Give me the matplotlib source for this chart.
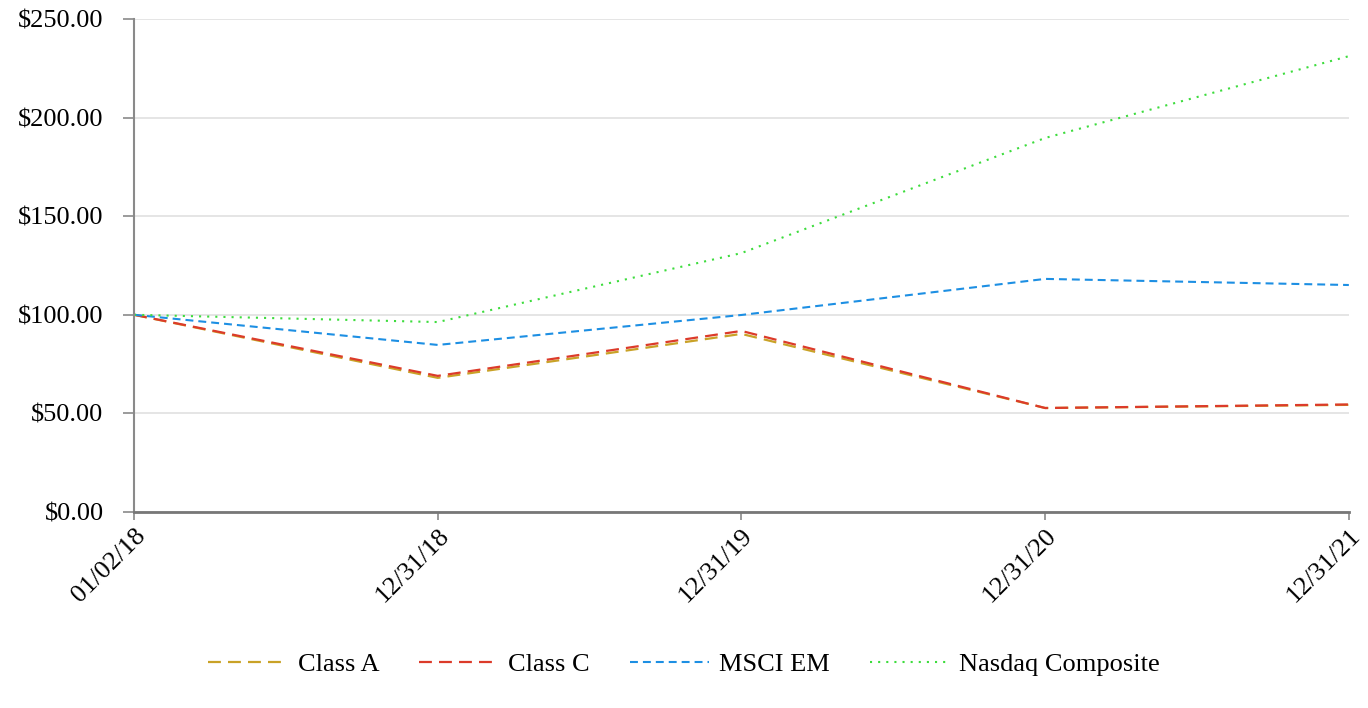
import matplotlib.pyplot as plt

dates = ['01/02/18', '12/31/18', '12/31/19', '12/31/20', '12/31/21']
class_a = [100.0, 68.0, 90.3, 52.7, 54.3]
class_c = [100.0, 69.0, 91.8, 52.7, 54.5]
msci_em = [100.0, 84.7, 99.9, 118.2, 115.1]
nasdaq = [100.0, 96.3, 131.3, 189.7, 231.2]

plt.rcParams['font.family'] = ['Liberation Serif', 'DejaVu Serif']

fig = plt.figure(figsize=(13.68, 7.08), dpi=100)
ax = fig.add_axes([0.098, 0.277, 0.888, 0.696])

x = list(range(len(dates)))
ax.plot(x, class_a, color='#c9a227', lw=1.6, dashes=(5.8, 3.2), label='Class A')
ax.plot(x, class_c, color='#dc3b2a', lw=1.6, dashes=(5.8, 3.2), label='Class C')
ax.plot(x, msci_em, color='#1d8fe3', lw=1.5, dashes=(3.8, 2.4), label='MSCI EM')
ax.plot(x, nasdaq, color='#3ddc3d', lw=1.5, dashes=(1, 2.9), label='Nasdaq Composite')

ax.set_xlim(0, len(dates) - 1)
ax.set_ylim(0, 250)
ax.set_yticks([0, 50, 100, 150, 200, 250])
ax.set_yticklabels(['$%.2f' % v for v in [0, 50, 100, 150, 200, 250]], fontsize=19)
ax.set_xticks(x)
ax.set_xticklabels(dates, rotation=45, ha='right', rotation_mode='anchor', fontsize=19)

ax.grid(axis='y', color='#e3e3e3', lw=1.3)
ax.set_axisbelow(True)
for s in ['top', 'right']:
    ax.spines[s].set_visible(False)
ax.spines['left'].set_color('#8a8a8a')
ax.spines['left'].set_linewidth(1.5)
ax.spines['bottom'].set_color('#777777')
ax.spines['bottom'].set_linewidth(2)
ax.tick_params(axis='y', length=8, color='#8a8a8a', width=1.2, pad=14)
ax.tick_params(axis='x', length=6, color='#8a8a8a', width=1.2, pad=3)

handles, labels = ax.get_legend_handles_labels()
fig.legend(handles, labels, loc='center', bbox_to_anchor=(0.5, 0.062), ncol=4, frameon=False,
           fontsize=19, handlelength=3.0, columnspacing=1.5, handletextpad=0.4)

fig.savefig('out.png', dpi=100)
